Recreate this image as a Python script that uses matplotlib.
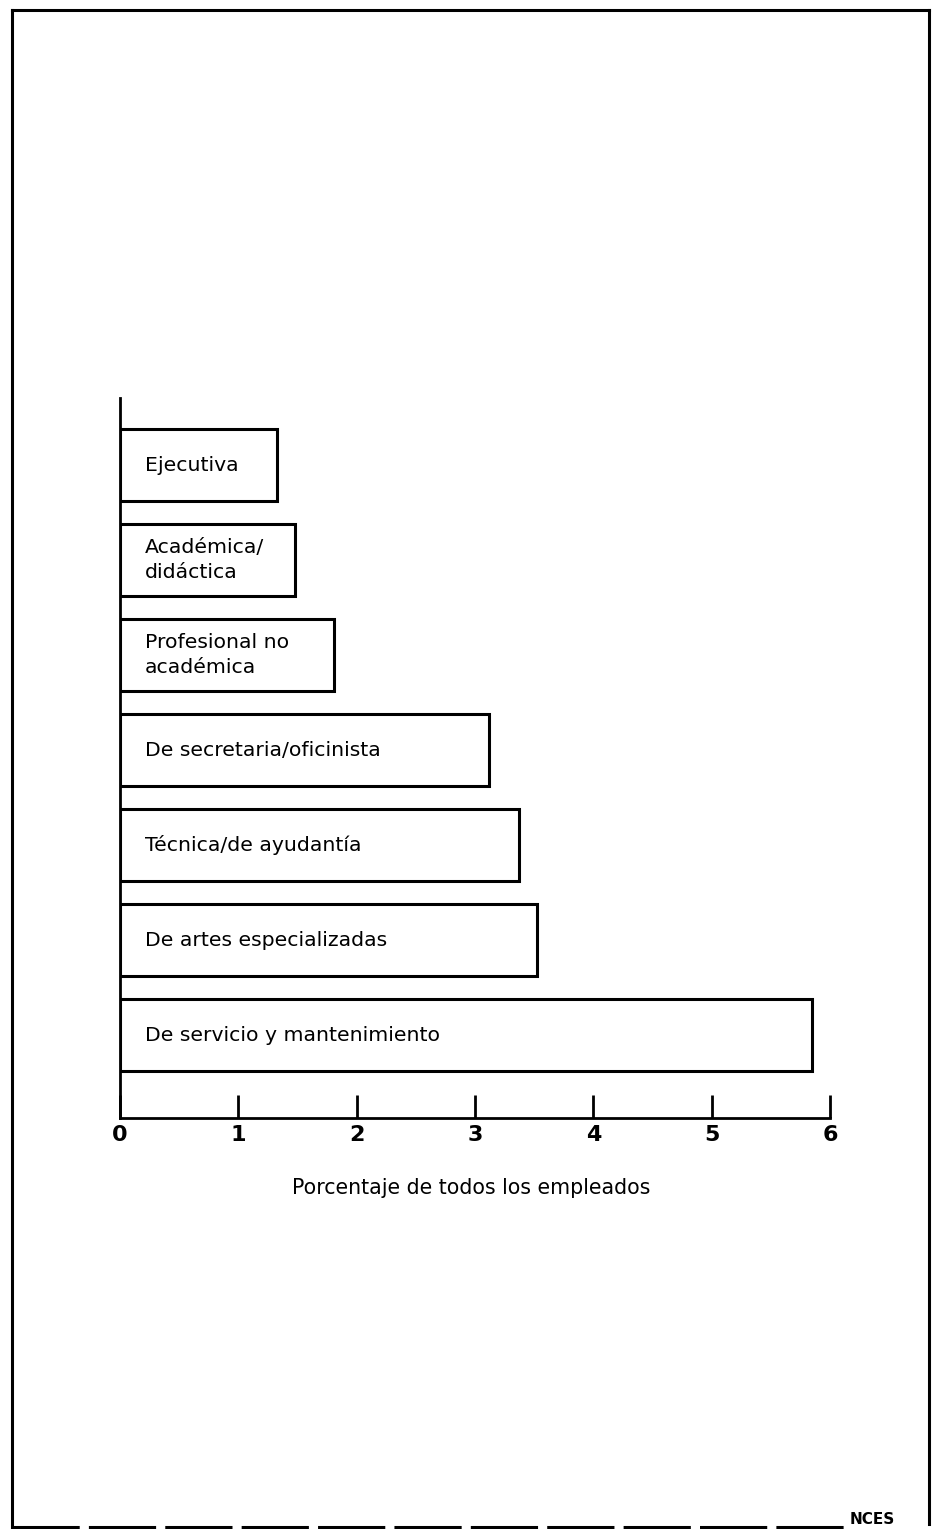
import matplotlib.pyplot as plt
from matplotlib.lines import Line2D

# datos
categorias = ["Ejecutiva",
              "Académica/\ndidáctica",
              "Profesional no\nacadémica",
              "De secretaria/oficinista",
              "Técnica/de ayudantía",
              "De artes especializadas",
              "De servicio y mantenimiento"]
valores = [1.33, 1.48, 1.81, 3.12, 3.37, 3.52, 5.85]
ticks_x = [0, 1, 2, 3, 4, 5, 6]
titulo_x = "Porcentaje de todos los empleados"

W, H = 934, 1529
fig = plt.figure(figsize=(W / 100, H / 100), dpi=100)
fig.patch.set_facecolor("white")

ax = fig.add_axes([120 / W, 1 - 1118 / H, 710 / W, 720 / H])
pos = list(range(len(categorias)))
ax.barh(pos, valores, height=0.76, fill=False, edgecolor="black", linewidth=2.2)

for p, nombre in zip(pos, categorias):
    ax.text(0.21, p, nombre, va="center", ha="left", fontsize=14.7,
            linespacing=1.4)

ax.set_xlim(0, 6)
ax.set_ylim(6.87, -0.705)
ax.set_yticks([])
ax.set_xticks(ticks_x)
ax.set_xticklabels([str(t) for t in ticks_x], fontsize=16, fontweight="bold")
ax.tick_params(axis="x", direction="in", length=16.5, width=2, pad=5)
ax.spines["top"].set_visible(False)
ax.spines["right"].set_visible(False)
ax.spines["left"].set_linewidth(2)
ax.spines["bottom"].set_linewidth(2)

fig.text(471 / W, 1 - 1188 / H, titulo_x, ha="center", va="center", fontsize=14.8)

# marco de la pagina
def px(x, y):
    return x / W, 1 - y / H

for (x0, y0), (x1, y1), ls in [((12, 10), (12, 1529), "-"),
                               ((12, 10), (929, 10), "-"),
                               ((929, 10), (929, 1524), "-"),
                               ((12, 1527), (845, 1527), (0, (22, 3)))]:
    a, b = px(x0, y0)
    c, d = px(x1, y1)
    fig.add_artist(Line2D([a, c], [b, d], color="black", linewidth=2.2, linestyle=ls))

fig.text(850 / W, 1 - 1527 / H, "NCES", ha="left", va="bottom", fontsize=11, fontweight="bold")

fig.savefig("out.png", dpi=100, facecolor="white")
